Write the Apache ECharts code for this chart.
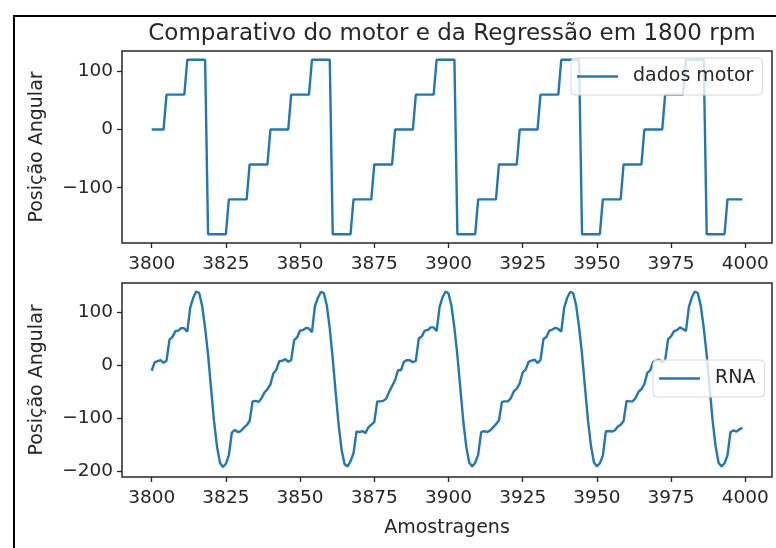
<!DOCTYPE html>
<html>
<head>
<meta charset="utf-8">
<script src="https://cdn.jsdelivr.net/npm/echarts@6/dist/echarts.min.js"></script>
<style>
  html, body { margin: 0; padding: 0; background: #fff; }
  #chart { width: 776px; height: 548px; }
</style>
</head>
<body>
<div id="chart"></div>
<script>
// dados: amostras 3800..3999
var primeiraAmostra = 3800;

var dadosMotor = [
  0, 0, 0, 0, 0,
  60, 60, 60, 60, 60, 60, 60,
  120, 120, 120, 120, 120, 120, 120,
  -180, -180, -180, -180, -180, -180, -180,
  -120, -120, -120, -120, -120, -120, -120,
  -60, -60, -60, -60, -60, -60, -60,
  0, 0, 0, 0, 0, 0, 0,
  60, 60, 60, 60, 60, 60, 60,
  120, 120, 120, 120, 120, 120, 120,
  -180, -180, -180, -180, -180, -180, -180,
  -120, -120, -120, -120, -120, -120, -120,
  -60, -60, -60, -60, -60, -60, -60,
  0, 0, 0, 0, 0, 0, 0,
  60, 60, 60, 60, 60, 60, 60,
  120, 120, 120, 120, 120, 120, 120,
  -180, -180, -180, -180, -180, -180, -180,
  -120, -120, -120, -120, -120, -120, -120,
  -60, -60, -60, -60, -60, -60, -60,
  0, 0, 0, 0, 0, 0, 0,
  60, 60, 60, 60, 60, 60, 60,
  120, 120, 120, 120, 120, 120, 120,
  -180, -180, -180, -180, -180, -180, -180,
  -120, -120, -120, -120, -120, -120, -120,
  -60, -60, -60, -60, -60, -60, -60,
  0, 0, 0, 0, 0, 0, 0,
  60, 60, 60, 60, 60, 60, 60,
  120, 120, 120, 120, 120, 120, 120,
  -180, -180, -180, -180, -180, -180, -180,
  -120, -120, -120, -120, -120, -120
];

var dadosRNA = [
  -10, 6, 8, 10, 5, 9, 49, 54, 65, 66, 71, 70, 64, 110, 128, 140, 137, 113, 71, 20, -43,
  -105, -153, -184, -192, -186, -170, -127, -122, -126, -124, -118, -113, -105, -68, -67, -69, -62, -51, -45, -36, -15,
  -8, 8, 9, 12, 7, 10, 48, 53, 66, 67, 71, 70, 63, 112, 128, 139, 137, 114, 70, 13, -52,
  -113, -160, -187, -191, -181, -166, -125, -126, -124, -128, -117, -112, -107, -68, -68, -67, -63, -50, -39, -28, -9,
  -9, 7, 10, 10, 6, 9, 51, 55, 66, 67, 72, 72, 65, 111, 129, 140, 136, 113, 71, 19, -44,
  -106, -154, -184, -191, -184, -169, -126, -124, -126, -123, -117, -111, -104, -69, -68, -68, -62, -49, -44, -34, -13,
  -8, 7, 9, 11, 5, 10, 50, 54, 66, 68, 71, 69, 64, 110, 128, 139, 137, 114, 72, 21, -42,
  -104, -152, -183, -191, -185, -171, -125, -124, -125, -123, -116, -112, -105, -67, -68, -68, -62, -50, -45, -35, -14,
  -9, 7, 9, 11, 6, 10, 50, 55, 65, 67, 72, 69, 65, 111, 129, 140, 137, 113, 71, 20, -43,
  -105, -153, -184, -191, -185, -170, -126, -123, -125, -121, -118
];

var ticksX = [3800, 3825, 3850, 3875, 3900, 3925, 3950, 3975, 4000];
var ticksYMotor = [-100, 0, 100];
var ticksYRNA = [-200, -100, 0, 100];

//monta pares [amostra, valor]
function pares(valores){
  var out = [];
  for (var i = 0; i < valores.length; i++) {
    out.push([primeiraAmostra + i, valores[i]]);
  }
  return out;
}

//sem separador de milhar, sinal de menos como no matplotlib
function rotulo(v){
  return String(v).replace('-', '\u2212');
}

var fonte = 'DejaVu Sans';
var corTexto = '#262626';

function eixoX(grid, nome){
  return {
    type: 'value', gridIndex: grid, min: 3790, max: 4009,
    name: nome, nameLocation: 'middle', nameGap: 42,
    nameTextStyle: { fontFamily: fonte, fontSize: 19, color: corTexto },
    axisLine: { show: false, onZero: false },
    axisTick: { show: true, length: 5, customValues: ticksX, lineStyle: { color: corTexto, width: 1.3 } },
    axisLabel: { customValues: ticksX, formatter: rotulo, fontFamily: fonte, fontSize: 18.5, color: corTexto, margin: 12 },
    splitLine: { show: false }
  };
}

function eixoY(grid, min, max, ticks){
  return {
    type: 'value', gridIndex: grid, min: min, max: max,
    name: 'Posição Angular', nameLocation: 'middle', nameGap: 75,
    nameTextStyle: { fontFamily: fonte, fontSize: 19, color: corTexto },
    axisLine: { show: false, onZero: false },
    axisTick: { show: true, length: 5, customValues: ticks, lineStyle: { color: corTexto, width: 1.3 } },
    axisLabel: { customValues: ticks, formatter: rotulo, fontFamily: fonte, fontSize: 18.5, color: corTexto, margin: 9 },
    splitLine: { show: false }
  };
}

function legenda(nome, left, top){
  return {
    data: [nome], left: left, top: top, orient: 'vertical',
    icon: 'rect', itemWidth: 41, itemHeight: 2.5,
    backgroundColor: 'rgba(255,255,255,0.8)',
    borderColor: '#d6d6d6', borderWidth: 1, borderRadius: 4,
    padding: [9, 9, 9, 6],
    textStyle: { fontFamily: fonte, fontSize: 19, color: corTexto, padding: [0, 0, 0, 10] }
  };
}

var myChart = echarts.init(document.getElementById('chart'));
var option = {
  backgroundColor: '#fff',
  animation: false,
  title: {
    text: 'Comparativo do motor e da Regressão em 1800 rpm',
    left: 447, top: 18, textAlign: 'center',
    textStyle: { fontFamily: fonte, fontSize: 23, fontWeight: 'normal', color: corTexto }
  },
  graphic: [{
    type: 'rect', shape: { x: 14, y: 16, width: 800, height: 600 },
    style: { fill: 'none', stroke: '#000', lineWidth: 2 }, silent: true
  }],
  grid: [
    { left: 122, top: 51, width: 650, height: 192, show: true, borderColor: '#262626', borderWidth: 1.5, backgroundColor: '#fff' },
    { left: 122, top: 283, width: 650, height: 194, show: true, borderColor: '#262626', borderWidth: 1.5, backgroundColor: '#fff' }
  ],
  xAxis: [eixoX(0, ''), eixoX(1, 'Amostragens')],
  yAxis: [eixoY(0, -195, 135, ticksYMotor), eixoY(1, -211, 156, ticksYRNA)],
  legend: [legenda('dados motor', 571, 58), legenda('RNA', 653, 360)],
  series: [
    {
      name: 'dados motor', type: 'line', xAxisIndex: 0, yAxisIndex: 0,
      data: pares(dadosMotor), showSymbol: false,
      lineStyle: { color: '#1f77b4', width: 2.4 }, itemStyle: { color: '#1f77b4' }
    },
    {
      name: 'RNA', type: 'line', xAxisIndex: 1, yAxisIndex: 1,
      data: pares(dadosRNA), showSymbol: false,
      lineStyle: { color: '#1f77b4', width: 2.4 }, itemStyle: { color: '#1f77b4' }
    }
  ]
};
myChart.setOption(option);
</script>
</body>
</html>
